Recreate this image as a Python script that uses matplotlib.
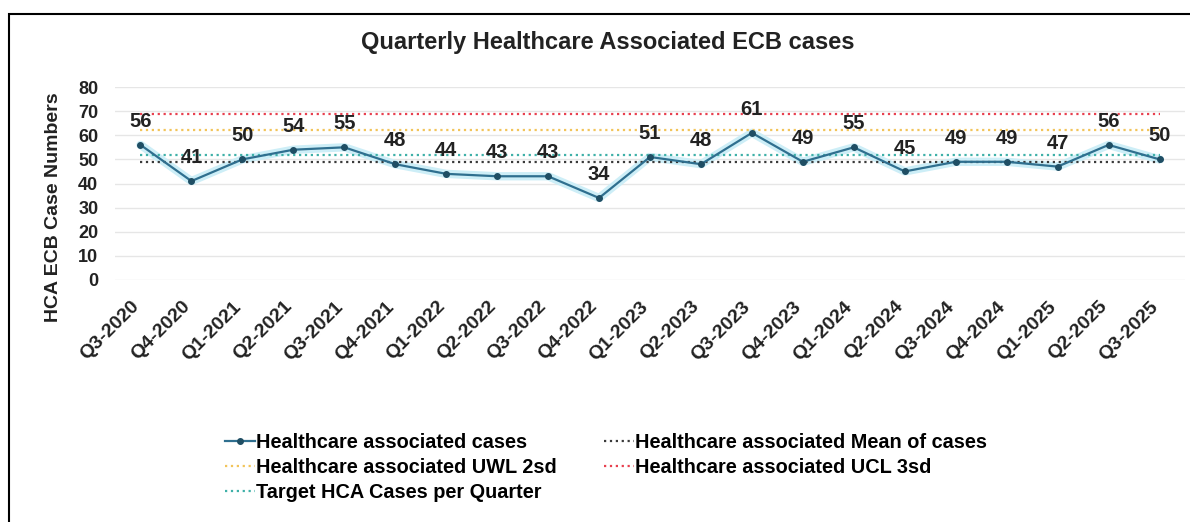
import numpy as np
import matplotlib
matplotlib.use("Agg")
import matplotlib.pyplot as plt
import matplotlib.transforms as mtransforms
from matplotlib.patches import Rectangle

plt.rcParams['font.family'] = ['Liberation Sans', 'DejaVu Sans']
plt.rcParams['font.weight'] = 'bold'

quarters = ["Q3-2020", "Q4-2020", "Q1-2021", "Q2-2021", "Q3-2021", "Q4-2021",
            "Q1-2022", "Q2-2022", "Q3-2022", "Q4-2022", "Q1-2023", "Q2-2023",
            "Q3-2023", "Q4-2023", "Q1-2024", "Q2-2024", "Q3-2024", "Q4-2024",
            "Q1-2025", "Q2-2025", "Q3-2025"]
cases = [56, 41, 50, 54, 55, 48, 44, 43, 43, 34, 51, 48, 61, 49, 55, 45, 49, 49, 47, 56, 50]
mean_cases = 49
uwl_2sd = 62
ucl_3sd = 69
target = 52
y_ticks = [0, 10, 20, 30, 40, 50, 60, 70, 80]

W, H = 1190, 522
fig = plt.figure(figsize=(W / 100, H / 100), dpi=100)
# outer chart border (runs off the right and bottom edges)
fig.patches.append(Rectangle((9 / W, -0.05), 1.2, 1 - 14 / H + 0.05,
                             transform=fig.transFigure, fill=False,
                             edgecolor='black', linewidth=1.5))

ax = fig.add_axes([115 / W, 1 - 280 / H, 1070 / W, 193 / H])
x = np.arange(len(quarters))

for v in y_ticks:
    ax.axhline(v, color='#e6e6e6', linewidth=1, zorder=0)

ax.plot(x, cases, color='#cdeef7', linewidth=6, zorder=2, solid_capstyle='round')
l_cases, = ax.plot(x, cases, color='#2f6f8f', linewidth=1.6, marker='o', markersize=4,
                   markerfacecolor='#1f4e64', markeredgecolor='#1f4e64', zorder=3,
                   label='Healthcare associated cases')
l_mean, = ax.plot(x, [mean_cases] * len(x), color='#3a3a3a', linestyle=':', linewidth=1.6,
                  zorder=2, label='Healthcare associated Mean of cases')
l_uwl, = ax.plot(x, [uwl_2sd] * len(x), color='#f2c45a', linestyle=':', linewidth=1.6,
                 zorder=2, label='Healthcare associated UWL 2sd')
l_ucl, = ax.plot(x, [ucl_3sd] * len(x), color='#e8404f', linestyle=':', linewidth=1.6,
                 zorder=2, label='Healthcare associated UCL 3sd')
l_tgt, = ax.plot(x, [target] * len(x), color='#3fb0a8', linestyle=':', linewidth=1.6,
                 zorder=2, label='Target HCA Cases per Quarter')

for xi, v in zip(x, cases):
    ax.annotate(str(v), (xi, v), xytext=(0, 10), textcoords='offset points',
                ha='center', va='bottom', fontsize=14.5, fontweight='bold', color='#222222')

ax.set_xlim(-0.5, len(quarters) - 0.5)
ax.set_ylim(0, 80)
ax.set_yticks(y_ticks)
ax.set_yticklabels([str(v) for v in y_ticks], fontsize=13, fontweight='bold', color='#222222')
ax.set_xticks(x)
ax.set_xticklabels(quarters, rotation=45, ha='right', va='top', rotation_mode='anchor',
                   fontsize=14, fontweight='bold', color='#222222')
ax.tick_params(axis='y', length=0, pad=12)
ax.tick_params(axis='x', length=0, pad=13)
shift = mtransforms.ScaledTranslation(-10 / 100, 0, fig.dpi_scale_trans)
for lab in ax.get_xticklabels():
    lab.set_transform(lab.get_transform() + shift)
for s in ax.spines.values():
    s.set_visible(False)

ax.set_ylabel('HCA ECB Case Numbers', fontsize=14, fontweight='bold', color='#222222')
ax.yaxis.set_label_coords((62 - 115) / 1070, (280 - 207) / 193)

fig.text(608 / W, 1 - 42 / H, 'Quarterly Healthcare Associated ECB cases',
         ha='center', va='center', fontsize=17, fontweight='bold', color='#222222')

handles = [l_cases, l_uwl, l_tgt, l_mean, l_ucl]
fig.legend(handles=handles, loc='upper left', bbox_to_anchor=(225 / W, 1 - 433 / H),
           ncol=2, frameon=False, fontsize=14.3, handlelength=1.5, handletextpad=0.05,
           columnspacing=2.4, labelspacing=0.3, borderaxespad=0, borderpad=0)

fig.savefig('out.png', dpi=100)
